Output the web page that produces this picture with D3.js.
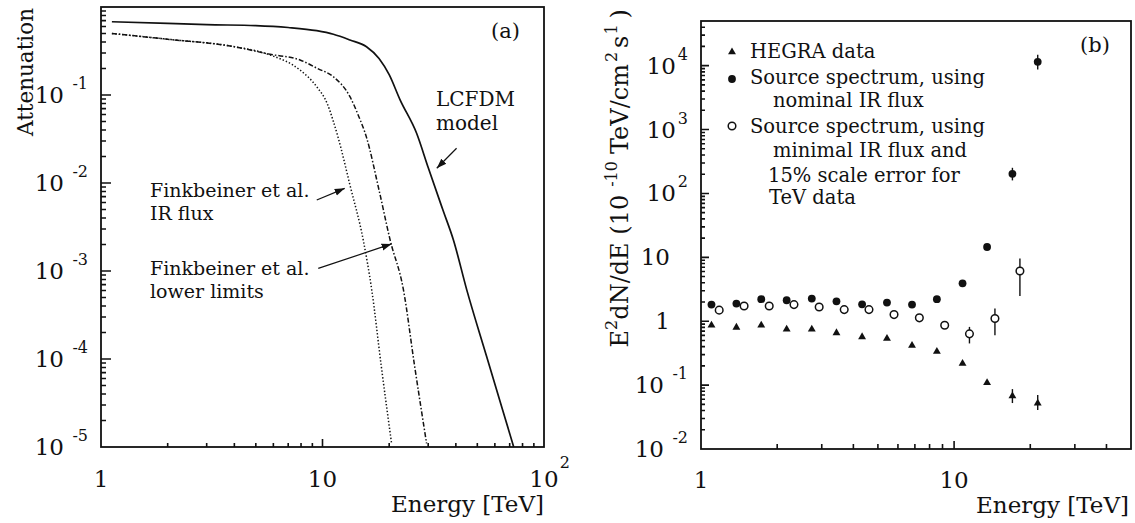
<!DOCTYPE html>
<html><head><meta charset="utf-8">
<script src="https://cdn.jsdelivr.net/npm/d3@7"></script>
<style>
body{margin:0;background:#fff}
text{font-family:'DejaVu Serif',serif;fill:#111}
</style>
</head><body>
<svg id="c" width="1135" height="523"></svg>
<script>
// ---------- Panel (a): attenuation curves ----------
const lcfdmE = [1.12, 2, 3, 5, 7, 9.42, 11.2, 13.3, 15.8, 18, 20, 22.4, 26.6, 30, 35, 39, 44.8, 55, 65, 73];
const lcfdmA = [0.68, 0.65, 0.63, 0.615, 0.585, 0.538, 0.49, 0.422, 0.354, 0.26, 0.17, 0.088, 0.0367, 0.015, 0.0049, 0.00225, 6.1e-4, 1.08e-4, 2.65e-5, 1.0e-5];

const irFluxE = [1.12, 2, 4, 5.8, 7.92, 9.42, 10.5, 11.2, 11.8, 13.3, 15.3, 16.7, 18.4, 20.5];
const irFluxA = [0.50, 0.43, 0.354, 0.285, 0.192, 0.124, 0.08, 0.05, 0.032, 0.0095, 0.0022, 6.0e-4, 8.5e-5, 1.1e-5];

const lowerE = [1.12, 2, 4, 5.8, 7.92, 9.5, 11.2, 13.3, 14.5, 15.8, 18, 20.2, 23.2, 26, 29.5];
const lowerA = [0.50, 0.43, 0.354, 0.29, 0.25, 0.20, 0.161, 0.0957, 0.059, 0.033, 0.0083, 0.00225, 6.1e-4, 8.6e-5, 1.1e-5];

// ---------- Panel (b): spectra ----------
const hegraE  = [1.10, 1.38, 1.73, 2.18, 2.74, 3.43, 4.33, 5.43, 6.82, 8.55, 10.8, 13.5, 17.0, 21.4];
const hegraF  = [0.866, 0.80, 0.866, 0.75, 0.75, 0.656, 0.569, 0.537, 0.417, 0.336, 0.218, 0.109, 0.0675, 0.052];
const hegraLo = [0.866, 0.80, 0.866, 0.75, 0.75, 0.656, 0.569, 0.537, 0.417, 0.336, 0.218, 0.100, 0.0524, 0.0407];
const hegraHi = [0.866, 0.80, 0.866, 0.75, 0.75, 0.656, 0.569, 0.537, 0.417, 0.336, 0.218, 0.118, 0.0866, 0.0698];

const nominalE  = [1.10, 1.38, 1.73, 2.18, 2.74, 3.43, 4.33, 5.43, 6.82, 8.55, 10.8, 13.5, 17.0, 21.4];
const nominalF  = [1.82, 1.89, 2.21, 2.13, 2.26, 2.05, 1.84, 1.96, 1.82, 2.21, 3.92, 14.5, 203, 11500];
const nominalLo = [1.82, 1.89, 2.21, 2.13, 2.26, 2.05, 1.84, 1.96, 1.82, 2.21, 3.92, 14.5, 160, 8700];
const nominalHi = [1.82, 1.89, 2.21, 2.13, 2.26, 2.05, 1.84, 1.96, 1.82, 2.21, 3.92, 14.5, 252, 14800];

const minimalE  = [1.18, 1.48, 1.86, 2.33, 2.93, 3.68, 4.61, 5.79, 7.29, 9.18, 11.5, 14.5, 18.2];
const minimalF  = [1.49, 1.73, 1.73, 1.82, 1.67, 1.52, 1.52, 1.27, 1.13, 0.866, 0.634, 1.10, 6.1];
const minimalLo = [1.49, 1.73, 1.73, 1.82, 1.67, 1.52, 1.52, 1.27, 1.13, 0.866, 0.449, 0.604, 2.49];
const minimalHi = [1.49, 1.73, 1.73, 1.82, 1.67, 1.52, 1.52, 1.27, 1.13, 0.866, 0.815, 1.58, 9.55];

// tick label exponents
const yTicksA = [-1, -2, -3, -4, -5];
const xTicksA = [0, 1, 2];
const yTicksB = [4, 3, 2, 1, 0, -1, -2];
const xTicksB = [0, 1];

const legendLabels = [
  ["HEGRA data"],
  ["Source spectrum, using", "nominal IR flux"],
  ["Source spectrum, using", "minimal IR flux and", "15% scale error for", "TeV data"]
];

// ---------- drawing ----------
const svg = d3.select("#c");
const INK = "#111";
const TICKFS = 23, EXPFS = 16;

const xA = d3.scaleLog().domain([1, 100]).range([101, 544]);
const yA = d3.scaleLog().domain([1e-5, 1]).range([447, 7]);
const xB = d3.scaleLog().domain([1, 50]).range([701, 1131]);
const yB = d3.scaleLog().domain([0.01, 50000]).range([449, 21]);

function minorTicks(lo, hi) {
  const out = [];
  for (let d = Math.floor(Math.log10(lo)); d <= Math.ceil(Math.log10(hi)); d++) {
    for (let m = 2; m <= 9; m++) {
      const v = m * Math.pow(10, d);
      if (v > lo * 1.0001 && v < hi * 0.9999) out.push(v);
    }
  }
  return out;
}
function majorTicks(lo, hi) {
  const out = [];
  for (let d = Math.floor(Math.log10(lo)); d <= Math.ceil(Math.log10(hi)); d++) {
    const v = Math.pow(10, d);
    if (v > lo * 1.0001 && v < hi * 0.9999) out.push(v);
  }
  return out;
}
// inward tick marks placed by the scales, drawn as one path per axis
function inTicks(g, x, y, dom) {
  const [xlo, xhi] = x.domain(), [ylo, yhi] = y.domain();
  const bottom = y.range()[0], left = x.range()[0];
  const xTicks = majorTicks(xlo, xhi).map(v => [v, dom.xMaj]).concat(minorTicks(xlo, xhi).map(v => [v, dom.xMin]));
  const yTicks = majorTicks(ylo, yhi).map(v => [v, dom.yMaj]).concat(minorTicks(ylo, yhi).map(v => [v, dom.yMin]));
  const px = d3.path();
  xTicks.forEach(([v, len]) => { px.moveTo(x(v), bottom); px.lineTo(x(v), bottom - len); });
  const py = d3.path();
  yTicks.forEach(([v, len]) => { py.moveTo(left, y(v)); py.lineTo(left + len, y(v)); });
  [px, py].forEach(p => g.append("path").attr("d", p.toString())
    .attr("fill", "none").attr("stroke", INK).attr("stroke-width", 1.6));
}

function powerLabel(parent, xEnd, yTick, exp, gapNeg, gapPos) {
  const e = parent.append("text").attr("x", xEnd).attr("y", yTick - 6)
    .attr("text-anchor", "end").attr("font-size", EXPFS).text(String(exp));
  const w = e.node().getComputedTextLength();
  const gap = exp < 0 ? gapNeg : gapPos;
  parent.append("text").attr("x", xEnd - w - gap).attr("y", yTick + 8)
    .attr("text-anchor", "end").attr("font-size", TICKFS).text("10");
}

function frame(x, y) {
  const [x0, x1] = x.range(), [y1, y0] = y.range();
  svg.append("rect").attr("x", x0).attr("y", y0).attr("width", x1 - x0).attr("height", y1 - y0)
    .attr("fill", "none").attr("stroke", INK).attr("stroke-width", 1.8);
}

// ===== Panel (a) =====
const gA = svg.append("g");

// y labels
yTicksA.forEach(p => powerLabel(gA, xA.range()[0] - 13, yA(Math.pow(10, p)), p, 8.5, 2));
// x labels
xTicksA.forEach(p => {
  const xv = xA(Math.pow(10, p));
  if (p <= 1) {
    gA.append("text").attr("x", xv).attr("y", 487).attr("text-anchor", "middle").attr("font-size", TICKFS).text(p === 0 ? "1" : "10");
  } else {
    const t = gA.append("text").attr("x", xv).attr("y", 487).attr("text-anchor", "middle").attr("font-size", TICKFS).text("10");
    const w = t.node().getComputedTextLength();
    gA.append("text").attr("x", xv + w / 2 + 1).attr("y", 468).attr("font-size", EXPFS).text(String(p));
  }
});
gA.append("text").attr("x", 544).attr("y", 512).attr("text-anchor", "end").attr("font-size", 23).text("Energy [TeV]");
gA.append("text").attr("transform", "translate(33,8) rotate(-90)").attr("text-anchor", "end").attr("font-size", 21.5).text("Attenuation");

// curves
const lineA = d3.line().x(d => xA(d[0])).y(d => yA(d[1])).curve(d3.curveMonotoneX);
const curves = [
  {E: lcfdmE, A: lcfdmA, dash: null, w: 1.7},
  {E: irFluxE, A: irFluxA, dash: "1.4,2", w: 1.5},
  {E: lowerE, A: lowerA, dash: "5,2,1.5,2", w: 1.5}
];
curves.forEach(c => {
  gA.append("path").datum(d3.zip(c.E, c.A)).attr("d", lineA)
    .attr("fill", "none").attr("stroke", INK).attr("stroke-width", c.w)
    .attr("stroke-dasharray", c.dash);
});
frame(xA, yA);
inTicks(svg.append("g"), xA, yA, {xMaj: 8, xMin: 4, yMaj: 10, yMin: 5});

// arrows
const defs = svg.append("defs");
defs.append("marker").attr("id", "ah").attr("viewBox", "0 0 10 10").attr("refX", 10).attr("refY", 5)
  .attr("markerWidth", 10).attr("markerHeight", 10).attr("markerUnits", "userSpaceOnUse").attr("orient", "auto")
  .append("path").attr("d", "M0,1.5 L10,5 L0,8.5 Z").attr("fill", INK);
const arrows = [
  [[40.3, 0.0248], [32.8, 0.0147]],
  [[9.42, 0.0064], [12.6, 0.0087]],
  [[9.57, 0.00107], [20.5, 0.00203]]
];
arrows.forEach(a => {
  gA.append("line").attr("x1", xA(a[0][0])).attr("y1", yA(a[0][1])).attr("x2", xA(a[1][0])).attr("y2", yA(a[1][1]))
    .attr("stroke", INK).attr("stroke-width", 1.2).attr("marker-end", "url(#ah)");
});
gA.append("text").attr("x", 491).attr("y", 38).attr("font-size", 21).text("(a)");
gA.append("text").attr("x", 436).attr("y", 106).attr("font-size", 20).text("LCFDM");
gA.append("text").attr("x", 436).attr("y", 130).attr("font-size", 20).text("model");
gA.append("text").attr("x", 150).attr("y", 197).attr("font-size", 19).text("Finkbeiner et al.");
gA.append("text").attr("x", 150).attr("y", 220).attr("font-size", 19).text("IR flux");
gA.append("text").attr("x", 150).attr("y", 275).attr("font-size", 19).text("Finkbeiner et al.");
gA.append("text").attr("x", 150).attr("y", 298).attr("font-size", 19).text("lower limits");

// ===== Panel (b) =====
const gB = svg.append("g");

// y labels
yTicksB.forEach(p => {
  const yv = yB(Math.pow(10, p));
  if (p === 0 || p === 1) {
    gB.append("text").attr("x", xB.range()[0] - 31).attr("y", yv + 8).attr("text-anchor", "end").attr("font-size", TICKFS).text(p === 0 ? "1" : "10");
  } else {
    powerLabel(gB, xB.range()[0] - 13, yv, p, 8.5, 2);
  }
});
xTicksB.forEach(p => {
  gB.append("text").attr("x", xB(Math.pow(10, p))).attr("y", 488).attr("text-anchor", "middle").attr("font-size", TICKFS).text(p === 0 ? "1" : "10");
});
gB.append("text").attr("x", 1129).attr("y", 513).attr("text-anchor", "end").attr("font-size", 23).text("Energy [TeV]");

// y title
const yTitle = gB.append("text").attr("transform", "translate(628,9) rotate(-90)").attr("text-anchor", "end").attr("font-size", 24);
yTitle.append("tspan").text("E");
yTitle.append("tspan").attr("font-size", 16).attr("dy", -11).text("2");
yTitle.append("tspan").attr("dy", 11).text("dN/dE (10");
yTitle.append("tspan").attr("font-size", 16).attr("dy", -11).attr("dx", 8).text("-10");
yTitle.append("tspan").attr("dy", 11).attr("dx", 7).text("TeV/cm");
yTitle.append("tspan").attr("font-size", 16).attr("dy", -11).attr("dx", 2).text("2");
yTitle.append("tspan").attr("dy", 11).attr("dx", 4).text("s");
yTitle.append("tspan").attr("font-size", 16).attr("dy", -11).attr("dx", 1).text("1");
yTitle.append("tspan").attr("dy", 11).attr("dx", 6).text(")");

// error bars + markers
function marker(g, x, y, kind) {
  if (kind === "tri") {
    g.append("path").attr("d", d3.symbol(d3.symbolTriangle, 27)()).attr("transform", `translate(${x},${y})`).attr("fill", INK);
  } else if (kind === "full") {
    g.append("circle").attr("cx", x).attr("cy", y).attr("r", 3.9).attr("fill", INK);
  } else {
    g.append("circle").attr("cx", x).attr("cy", y).attr("r", 3.8).attr("fill", "#fff").attr("stroke", INK).attr("stroke-width", 1.5);
  }
}
function series(E, F, Lo, Hi, kind) {
  const g = gB.append("g");
  E.forEach((e, i) => {
    if (Hi[i] > Lo[i]) {
      g.append("line").attr("x1", xB(e)).attr("x2", xB(e)).attr("y1", yB(Lo[i])).attr("y2", yB(Hi[i]))
        .attr("stroke", INK).attr("stroke-width", 1.4);
    }
  });
  E.forEach((e, i) => marker(g, xB(e), yB(F[i]), kind));
}
series(hegraE, hegraF, hegraLo, hegraHi, "tri");
series(nominalE, nominalF, nominalLo, nominalHi, "full");
series(minimalE, minimalF, minimalLo, minimalHi, "open");
frame(xB, yB);
inTicks(svg.append("g"), xB, yB, {xMaj: 8, xMin: 5, yMaj: 8, yMin: 4});

// legend
const lg = gB.append("g");
const legKinds = ["tri", "full", "open"];
const legRows = [[58], [84, 107], [133, 157, 182, 204]];
const legIndent = [[750], [750, 773], [750, 773, 768, 769]];
const legMarkY = [52, 79, 126];
legendLabels.forEach((lines, k) => {
  marker(lg, 732, legMarkY[k], legKinds[k]);
  lines.forEach((s, j) => {
    lg.append("text").attr("x", legIndent[k][j]).attr("y", legRows[k][j]).attr("font-size", 19.5).text(s);
  });
});
gB.append("text").attr("x", 1080).attr("y", 52).attr("font-size", 21).text("(b)");
</script>
</body></html>
